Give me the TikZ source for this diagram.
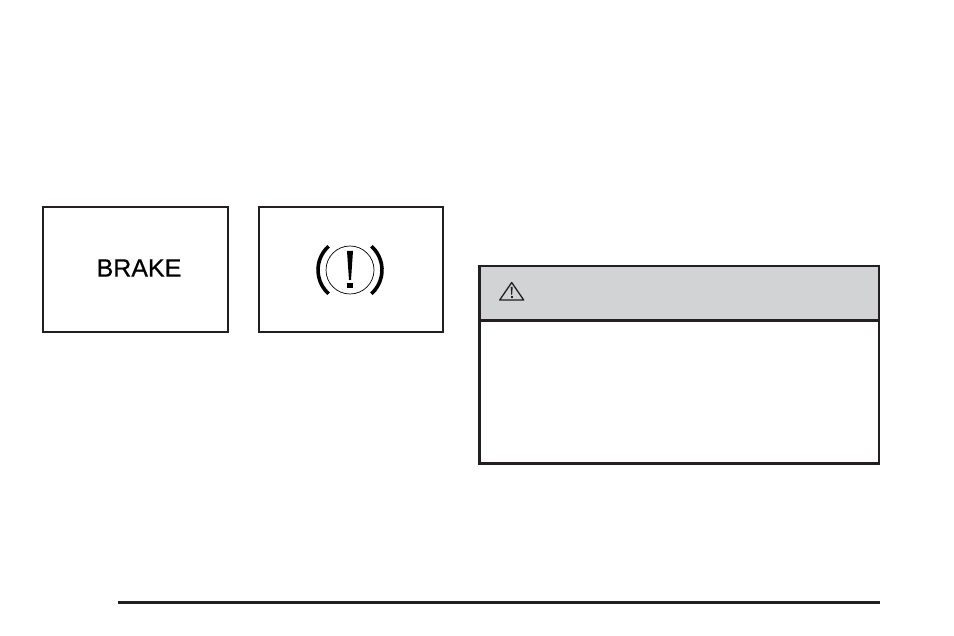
\documentclass[tikz,border=0pt]{standalone}
\usepackage{fontspec}
\setmainfont{Liberation Sans}
\newfontfamily\brakefont[FakeBold=0.6]{Liberation Sans}
\usepackage{xcolor}
\usetikzlibrary{positioning}
\definecolor{inkblack}{HTML}{231F20}
\definecolor{bandgray}{HTML}{D1D3D4}
\begin{document}
\begin{tikzpicture}
            [x=1pt,y=-1pt,panel/.style={draw=inkblack,line width=1.6pt,fill=white,inner sep=0pt,anchor=north west,minimum height=125.2pt}, warn line/.style={draw=inkblack,line width=2.5pt,inner sep=0pt,anchor=north west,minimum width=399.5pt}, glyph/.style={fill=black,draw=none}]
            \useasboundingbox (0,0) rectangle (954,636);
            \node[panel,minimum width=185.4pt] (brake) at (42,206) {};
            \node[font=\brakefont\fontsize{25}{25}\selectfont] (brake text) at (139,268) {BRAKE};
            \node[panel,minimum width=184.2pt] (lamp) at (258,206) {};

            % lamp symbol
            \node[circle,draw=black,line width=.7pt,minimum size=48pt,inner sep=0pt] (ring) at (350,270) {};
            \draw[black,line width=3.6pt] (350,270) ++(132:32pt) arc[start angle=132,end angle=228,radius=32pt];
            \draw[black,line width=3.6pt] (350,270) ++(48:32pt) arc[start angle=48,end angle=-48,radius=32pt];
            \fill[glyph] (347,251) -- (353,251) -- (351,280) -- (349,280) -- cycle;
            \fill[glyph] (347.3,283.5) rectangle (352.7,288.5);

            % warning box
            \node[warn line,fill=bandgray,minimum height=54.5pt] (band) at (478,265) {};
            \node[warn line,fill=white,minimum height=143pt] (note) at ([yshift=2.5pt]band.south west) {};
            \draw[inkblack,line width=1.3pt,line join=round] (511.7,282.5) -- (523.7,300) -- (499.7,300) -- cycle;
            \fill[inkblack] (510.7,287) -- (512.7,287) -- (512.1,295) -- (511.3,295) -- cycle;
            \fill[inkblack] (510.9,296.3) rectangle (512.5,298.2);

            \coordinate (rule a) at (118,602.5);
            \coordinate (rule b) at (880,602.5);
            \draw[inkblack,line width=3pt] (rule a) -- (rule b);
        \end{tikzpicture}
\end{document}
